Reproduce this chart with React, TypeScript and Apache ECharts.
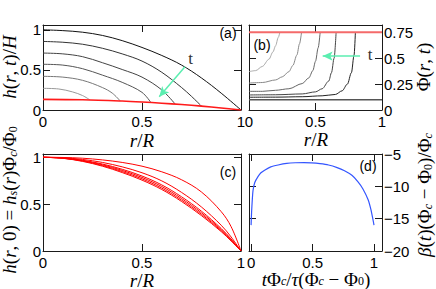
import React, { useEffect, useRef } from 'react';
import * as echarts from 'echarts';

// ---------- Panel (a): h(r,t)/H ----------
const aCurve1 = [[0, 1.0], [0.1, 0.99], [0.2, 0.97], [0.3, 0.93], [0.4, 0.865], [0.5, 0.78], [0.6, 0.68], [0.7, 0.56], [0.8, 0.4], [0.9, 0.21], [1.0, 0.0]];
const aCurve2 = [[0, 0.855], [0.1, 0.845], [0.2, 0.82], [0.3, 0.77], [0.4, 0.7], [0.5, 0.61], [0.6, 0.47], [0.7, 0.28], [0.75, 0.17], [0.8, 0.05]];
const aCurve3 = [[0, 0.71], [0.1, 0.7], [0.2, 0.665], [0.3, 0.59], [0.4, 0.505], [0.5, 0.41], [0.6, 0.25], [0.667, 0.075]];
const aCurve4 = [[0, 0.57], [0.1, 0.56], [0.2, 0.515], [0.3, 0.435], [0.4, 0.345], [0.5, 0.22], [0.545, 0.093]];
const aCurve5 = [[0, 0.42], [0.1, 0.41], [0.2, 0.37], [0.3, 0.28], [0.35, 0.21], [0.39, 0.113]];
const aCurve6 = [[0, 0.27], [0.08, 0.262], [0.15, 0.225], [0.2, 0.18], [0.237, 0.126]];
const aSteady = [[0, 0.133], [0.2, 0.128], [0.4, 0.112], [0.5, 0.1], [0.6, 0.085], [0.7, 0.068], [0.8, 0.048], [0.9, 0.025], [1, 0]];
const aColors = ['#111111', '#333333', '#444444', '#555555', '#777777', '#999999'];
const aArrow = [[0.717, 0.54], [0.587, 0.166]];
const aArrowLabel = [0.746, 0.646];

// ---------- Panel (b): Phi(r,t) ----------
const bCurveA = [[0, 0.37], [0.05, 0.38], [0.1, 0.42], [0.15, 0.49], [0.18, 0.56], [0.2, 0.62], [0.22, 0.7], [0.232, 0.75]];
const bCurveB = [[0, 0.26], [0.1, 0.265], [0.2, 0.29], [0.25, 0.32], [0.3, 0.37], [0.33, 0.43], [0.36, 0.53], [0.38, 0.64], [0.395, 0.75]];
const bCurveC = [[0, 0.18], [0.1, 0.18], [0.2, 0.19], [0.3, 0.205], [0.4, 0.255], [0.45, 0.31], [0.48, 0.38], [0.5, 0.47], [0.52, 0.6], [0.535, 0.75]];
const bCurveD = [[0, 0.145], [0.2, 0.147], [0.4, 0.155], [0.5, 0.175], [0.55, 0.205], [0.6, 0.28], [0.62, 0.36], [0.64, 0.5], [0.655, 0.75]];
const bCurveE = [[0, 0.123], [0.2, 0.124], [0.4, 0.128], [0.55, 0.137], [0.65, 0.15], [0.7, 0.185], [0.74, 0.25], [0.77, 0.36], [0.79, 0.53], [0.8, 0.75]];
const bInitial = [[0, 0.1], [1, 0.1]];
const bCritical = [[0, 0.75], [1, 0.75]];
const bColors = ['#aaaaaa', '#888888', '#666666', '#444444', '#222222'];
const bArrow = [[0.835, 0.52], [0.554, 0.52]];
const bArrowLabel = [0.91, 0.54];

// ---------- Panel (c): h(r,0) ----------
const cR = [0, 0.1, 0.2, 0.3, 0.4, 0.5, 0.6, 0.7, 0.8, 0.9, 0.95, 1];
const cH1 = [1.0, 0.998, 0.99, 0.972, 0.945, 0.905, 0.845, 0.76, 0.63, 0.42, 0.26, 0];
const cH2 = [1.0, 0.995, 0.977, 0.945, 0.898, 0.835, 0.748, 0.625, 0.47, 0.275, 0.15, 0];
const cH3 = [1.0, 0.992, 0.968, 0.928, 0.872, 0.8, 0.705, 0.578, 0.425, 0.24, 0.128, 0];
const cH4 = [1.0, 0.991, 0.964, 0.92, 0.86, 0.785, 0.688, 0.56, 0.408, 0.228, 0.12, 0];
const cH5 = [1.0, 0.99, 0.96, 0.912, 0.848, 0.77, 0.671, 0.543, 0.392, 0.217, 0.113, 0];
const cH6 = [1.0, 0.989, 0.956, 0.905, 0.837, 0.756, 0.656, 0.528, 0.378, 0.207, 0.107, 0];

// ---------- Panel (d): beta(t) ----------
const dT = [0.0, 0.004, 0.01, 0.016, 0.03, 0.056, 0.08, 0.11, 0.16, 0.22, 0.29, 0.36, 0.43, 0.49, 0.56, 0.63, 0.7, 0.76, 0.82, 0.87, 0.91, 0.953, 0.975, 0.99, 1.0];
const dBeta = [-16.0, -14.0, -12.0, -10.6, -9.4, -8.5, -7.9, -7.5, -7.0, -6.7, -6.45, -6.35, -6.33, -6.38, -6.5, -6.7, -7.1, -7.6, -8.3, -9.3, -10.4, -12.1, -13.6, -15.0, -16.0];

// ---------- Ticks ----------
const ticksUnit = [0, 0.5, 1];
const ticksPhi = [0, 0.25, 0.5, 0.75];
const ticksBeta = [-20, -15, -10, -5];

const SANS = "'Liberation Sans', Arial, Helvetica, sans-serif";
const SERIF = "'Liberation Serif', 'Times New Roman', serif";
const AXIS_COLOR = '#1a1a1a';
const ARROW_COLOR = '#5beeb0';

const fmt = (v: number) => (v < 0 ? '\u2212' + String(-v) : String(v));

function mkAxis(gridIndex: number, position: string, min: number, max: number, ticks: number[], showLabel: boolean, margin: number) {
  return {
    type: 'value',
    gridIndex,
    position,
    min,
    max,
    axisLine: { show: true, onZero: false, lineStyle: { color: AXIS_COLOR, width: 1 } },
    axisTick: { show: true, inside: true, length: 7, customValues: ticks, lineStyle: { color: AXIS_COLOR, width: 1 } },
    axisLabel: {
      show: showLabel,
      customValues: ticks,
      margin,
      color: '#000',
      fontSize: 15,
      fontFamily: SANS,
      formatter: fmt,
      showMinLabel: true,
      showMaxLabel: true,
    },
    splitLine: { show: false },
  };
}

function richStyles(lh: number, slh: number) {
  return {
    i: { fontFamily: SERIF, fontStyle: 'italic', fontSize: 19, lineHeight: lh, fill: '#000' },
    n: { fontFamily: SERIF, fontSize: 19, lineHeight: lh, fill: '#000' },
    s: { fontFamily: SERIF, fontStyle: 'italic', fontSize: 12, lineHeight: slh, verticalAlign: 'bottom', fill: '#000' },
    sn: { fontFamily: SERIF, fontSize: 12, lineHeight: slh, verticalAlign: 'bottom', fill: '#000' },
  };
}

function title(text: string, x: number, y: number, rotated: boolean) {
  return {
    type: 'text',
    x,
    y,
    rotation: rotated ? Math.PI / 2 : 0,
    silent: true,
    style: {
      text,
      rich: rotated ? richStyles(20, 6) : richStyles(16, 2),
      x: 0,
      y: 0,
      align: 'center',
      verticalAlign: 'middle',
      fill: '#000',
    },
  };
}

function panelLabel(text: string, x: number, y: number) {
  return {
    type: 'text',
    x,
    y,
    silent: true,
    style: {
      text,
      x: 0,
      y: 0,
      font: `14px ${SANS}`,
      fill: '#000',
      align: 'center',
      verticalAlign: 'middle',
    },
  };
}

function lineSeries(data: number[][], p: number, color: string, width = 1, extra: any = {}) {
  return {
    type: 'line',
    xAxisIndex: 2 * p,
    yAxisIndex: 2 * p,
    data,
    showSymbol: false,
    symbol: 'none',
    smooth: 0.35,
    lineStyle: { color, width },
    silent: true,
    ...extra,
  };
}

function arrowMarks(arrow: number[][], labelAt: number[]) {
  return {
    markLine: {
      silent: true,
      symbol: ['none', 'arrow'],
      symbolSize: [7, 10],
      lineStyle: { color: ARROW_COLOR, width: 1.5, type: 'solid' },
      label: { show: false },
      emphasis: { disabled: true },
      data: [[{ coord: arrow[0] }, { coord: arrow[1] }]],
    },
    markPoint: {
      silent: true,
      symbol: 'circle',
      symbolSize: 1,
      itemStyle: { color: 'rgba(0,0,0,0)' },
      label: { show: true, formatter: 't', position: 'inside', color: '#333', fontSize: 17, fontFamily: SERIF },
      data: [{ coord: labelAt }],
    },
  };
}

export default function App() {
  const ref = useRef<HTMLDivElement>(null);
  useEffect(() => {
    if (!ref.current) return;
    const chart = echarts.init(ref.current, undefined, { renderer: 'svg' });
    const aCurves = [aCurve1, aCurve2, aCurve3, aCurve4, aCurve5, aCurve6];
    const bCurves = [bCurveA, bCurveB, bCurveC, bCurveD, bCurveE];
    const cCurves = [cH1, cH2, cH3, cH4, cH5, cH6];

    const series: any[] = [];
    aCurves.forEach((c, i) => series.push(lineSeries(c, 0, aColors[i], 1)));
    series.push(lineSeries(aSteady, 0, '#ff1a1a', 1.6, arrowMarks(aArrow, aArrowLabel)));

    series.push(lineSeries(bInitial, 1, '#555555', 1.5));
    bCurves.forEach((c, i) => series.push(lineSeries(c, 1, bColors[i], 1, { smooth: 0.3, smoothMonotone: 'x' })));
    series.push(lineSeries(bCritical, 1, '#f46a6a', 2, arrowMarks(bArrow, bArrowLabel)));

    cCurves.forEach((h) => series.push(lineSeries(cR.map((r, k) => [r, h[k]]), 2, '#ff0000', 1)));

    series.push(lineSeries(dT.map((t, k) => [t, dBeta[k]]), 3, '#3355ff', 1.2, { smooth: 0.2 }));

    chart.setOption({
      animation: false,
      backgroundColor: '#ffffff',
      grid: [
        { left: 43, top: 25, width: 198, height: 85, outerBoundsMode: 'none' },
        { left: 249, top: 25, width: 133, height: 85, outerBoundsMode: 'none' },
        { left: 43, top: 154, width: 198, height: 97, outerBoundsMode: 'none' },
        { left: 249, top: 154, width: 133, height: 97, outerBoundsMode: 'none' },
      ],
      xAxis: [
        mkAxis(0, 'bottom', 0, 1, ticksUnit, true, 4),
        mkAxis(0, 'top', 0, 1, ticksUnit, false, 4),
        mkAxis(1, 'bottom', 0, 1, ticksUnit, true, 4),
        mkAxis(1, 'top', 0, 1, ticksUnit, false, 4),
        mkAxis(2, 'bottom', 0, 1, ticksUnit, true, 4),
        mkAxis(2, 'top', 0, 1, ticksUnit, false, 4),
        mkAxis(3, 'bottom', -0.017, 1.065, ticksUnit, true, 4),
        mkAxis(3, 'top', -0.017, 1.065, ticksUnit, false, 4),
      ],
      yAxis: [
        mkAxis(0, 'left', 0, 1.06, ticksUnit, true, 2),
        mkAxis(0, 'right', 0, 1.06, ticksUnit, false, 2),
        mkAxis(1, 'right', 0, 0.82, ticksPhi, true, 2),
        mkAxis(1, 'left', 0, 0.82, ticksPhi, false, 2),
        mkAxis(2, 'left', 0, 1.035, ticksUnit, true, 2),
        mkAxis(2, 'right', 0, 1.035, ticksUnit, false, 2),
        mkAxis(3, 'right', -20, -5, ticksBeta, true, 2),
        mkAxis(3, 'left', -20, -5, ticksBeta, false, 2),
      ],
      series,
      graphic: [
        title('{i|h}{n|(}{i|r}{n|, }{i|t}{n|)/}{i|H}', 9, 67, true),
        title('{i|r}{n|/}{i|R}', 142, 140, false),
        title('{i|r}{n|/}{i|R}', 316, 139, false),
        title('{n|\u03a6(}{i|r}{n|, }{i|t}{n|)}', 423, 67, true),
        title('{i|h}{n|(}{i|r}{n|, 0) = }{i|h}{s|s}{n|(}{i|r}{n|)\u03a6}{s|c}{n|/\u03a6}{sn|0}', 9, 200, true),
        title('{i|r}{n|/}{i|R}', 142, 280, false),
        title('{i|t}{n|\u03a6}{s|c}{n|/}{i|\u03c4}{n|(\u03a6}{s|c}{n| \u2212 \u03a6}{sn|0}{n|)}', 316, 279, false),
        title('{i|\u03b2}{n|(}{i|t}{n|)(\u03a6}{s|c}{n| \u2212 \u03a6}{sn|0}{n|)/\u03a6}{s|c}', 424, 195, true),
        panelLabel('(a)', 228, 33),
        panelLabel('(b)', 262, 45),
        panelLabel('(c)', 228, 172),
        panelLabel('(d)', 368, 166),
      ],
    });
    return () => chart.dispose();
  }, []);
  return <div ref={ref} style={{ position: 'absolute', left: 0, top: 0, width: 436, height: 289 }} />;
}
